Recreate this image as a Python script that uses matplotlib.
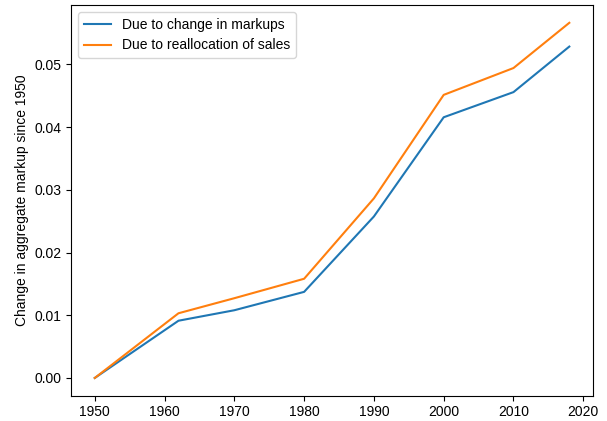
import matplotlib
matplotlib.use("Agg")
import matplotlib.pyplot as plt

plt.rcParams['font.family'] = ['Liberation Sans', 'DejaVu Sans']

years = [1950, 1962, 1970, 1980, 1990, 2000, 2010, 2018]
markups = [0.0, 0.00913, 0.0108, 0.01373, 0.02575, 0.04157, 0.04558, 0.05284]
reallocation = [0.0, 0.01032, 0.01272, 0.01582, 0.02864, 0.04514, 0.04942, 0.05663]

fig, ax = plt.subplots(figsize=(6.07, 4.21), dpi=100)
ax.plot(years, markups, color='#1f77b4', label='Due to change in markups')
ax.plot(years, reallocation, color='#ff7f0e', label='Due to reallocation of sales')
ax.set_ylabel('Change in aggregate markup since 1950')
ax.set_xticks([1950, 1960, 1970, 1980, 1990, 2000, 2010, 2020])
ax.legend(loc='upper left')
fig.subplots_adjust(left=0.117, right=0.977, top=0.988, bottom=0.06)
fig.savefig('out.png', dpi=100)
